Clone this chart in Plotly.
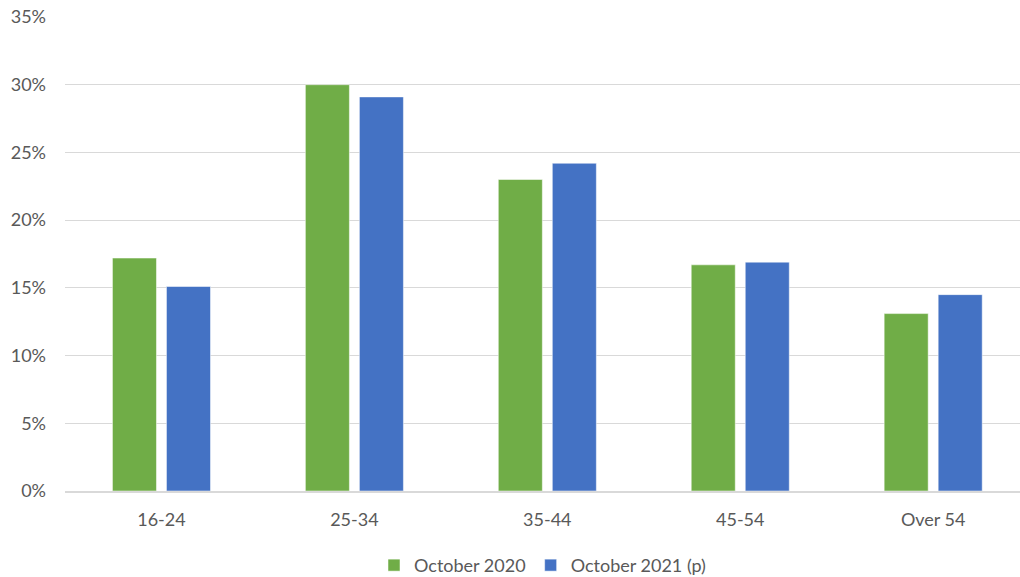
import plotly.graph_objects as go

age_groups = ["16-24", "25-34", "35-44", "45-54", "Over 54"]
oct_2020 = [0.172, 0.300, 0.230, 0.167, 0.131]
oct_2021 = [0.151, 0.291, 0.242, 0.169, 0.145]

fig = go.Figure()
fig.add_trace(go.Bar(x=age_groups, y=oct_2020, name="October 2020",
                     marker=dict(color="#70AD47", line=dict(color="white", width=0.5))))
fig.add_trace(go.Bar(x=age_groups, y=oct_2021, name="October 2021 (p)",
                     marker=dict(color="#4472C4", line=dict(color="white", width=0.5))))

fig.update_layout(
    width=1020, height=577,
    margin=dict(l=65, r=0, t=17, b=86, autoexpand=False),
    paper_bgcolor="white", plot_bgcolor="white",
    font=dict(family="Lato, Open Sans, sans-serif", size=18, color="#595959"),
    bargap=0.44, bargroupgap=0.185,
    legend=dict(orientation="h", x=0.5, xanchor="center", y=-0.118, yanchor="top",
                font=dict(size=18), itemwidth=30),
    xaxis=dict(range=[-0.5, 4.45], showline=True, linecolor="#D9D9D9", linewidth=1.5,
               ticks="", ticklabelstandoff=12, automargin=False),
    yaxis=dict(range=[0, 0.35], dtick=0.05, tickformat=".0%", showgrid=True,
               gridcolor="#D9D9D9", gridwidth=1.2, zeroline=False, ticks="",
               ticklabelstandoff=18, automargin=False),
)

# drop the default page margin so the figure sits at the window's corner
fig.write_html("out.html", config={"displayModeBar": False},
               post_script="document.body.style.margin='0';")
